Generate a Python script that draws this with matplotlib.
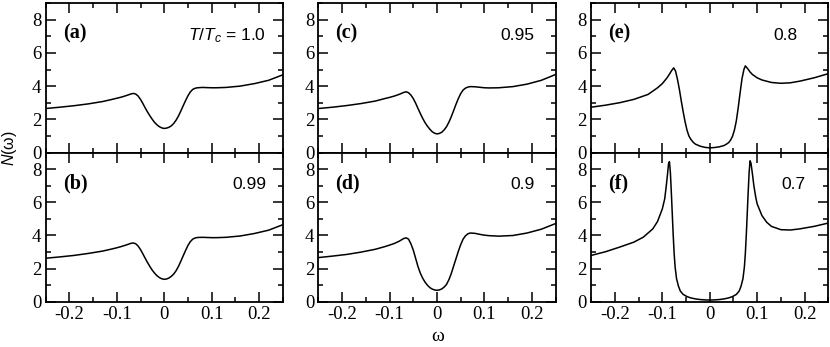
import matplotlib
matplotlib.use("Agg")
import matplotlib.pyplot as plt
from matplotlib.ticker import MultipleLocator

plt.rcParams['font.family'] = ['Liberation Serif', 'DejaVu Serif']
plt.rcParams['mathtext.fontset'] = 'custom'
plt.rcParams['mathtext.rm'] = 'Liberation Sans'
plt.rcParams['mathtext.it'] = 'Liberation Sans:italic'

# common frequency grid for the four weak-gap panels
w_soft = [-0.25, -0.22, -0.19, -0.16, -0.13, -0.11, -0.10, -0.09, -0.08, -0.07, -0.065, -0.06,
          -0.055, -0.05, -0.045, -0.04, -0.035, -0.03, -0.025, -0.02, -0.015, -0.01, -0.005,
          0.00, 0.005, 0.01, 0.015, 0.02, 0.025, 0.03, 0.035, 0.04, 0.045, 0.05, 0.055,
          0.06, 0.065, 0.07, 0.08, 0.09, 0.10, 0.11, 0.13, 0.16, 0.19, 0.22, 0.25]

dos_a = [2.65, 2.73, 2.82, 2.93, 3.07, 3.20, 3.27, 3.34, 3.43, 3.53, 3.56, 3.52,
         3.40, 3.20, 2.95, 2.68, 2.43, 2.20, 1.99, 1.80, 1.66, 1.55, 1.48,
         1.45, 1.47, 1.52, 1.61, 1.75, 1.95, 2.20, 2.50, 2.82, 3.13, 3.42, 3.65,
         3.80, 3.87, 3.90, 3.92, 3.91, 3.90, 3.90, 3.92, 4.00, 4.15, 4.35, 4.68]

dos_b = [2.63, 2.71, 2.80, 2.92, 3.06, 3.19, 3.26, 3.34, 3.43, 3.53, 3.55, 3.50,
         3.36, 3.15, 2.89, 2.62, 2.36, 2.12, 1.90, 1.72, 1.57, 1.46, 1.39,
         1.36, 1.38, 1.44, 1.54, 1.68, 1.88, 2.14, 2.45, 2.78, 3.10, 3.40, 3.63,
         3.78, 3.85, 3.88, 3.89, 3.88, 3.87, 3.87, 3.89, 3.97, 4.12, 4.32, 4.65]

dos_c = [2.65, 2.73, 2.83, 2.95, 3.10, 3.25, 3.32, 3.40, 3.50, 3.62, 3.66, 3.60,
         3.46, 3.25, 2.97, 2.65, 2.34, 2.05, 1.79, 1.58, 1.40, 1.25, 1.16,
         1.12, 1.15, 1.22, 1.36, 1.55, 1.82, 2.15, 2.52, 2.90, 3.25, 3.55, 3.76,
         3.88, 3.94, 3.97, 3.96, 3.93, 3.90, 3.89, 3.90, 3.97, 4.12, 4.35, 4.70]

dos_d = [2.67, 2.76, 2.86, 3.00, 3.17, 3.33, 3.42, 3.52, 3.65, 3.82, 3.86, 3.78,
         3.50, 3.12, 2.62, 2.12, 1.72, 1.42, 1.18, 1.00, 0.86, 0.77, 0.72,
         0.70, 0.72, 0.78, 0.89, 1.05, 1.33, 1.70, 2.15, 2.60, 3.05, 3.45, 3.78,
         3.98, 4.10, 4.15, 4.13, 4.07, 4.02, 3.99, 3.96, 4.00, 4.15, 4.38, 4.72]

w_e = [-0.25, -0.22, -0.19, -0.16, -0.13, -0.11, -0.10, -0.09, -0.085, -0.08, -0.076,
       -0.072, -0.068, -0.064, -0.06, -0.056, -0.052, -0.048, -0.044, -0.04, -0.035,
       -0.03, -0.02, -0.01, 0.0, 0.01, 0.02, 0.03, 0.035, 0.04, 0.044, 0.048, 0.052,
       0.056, 0.06, 0.064, 0.068, 0.072, 0.075, 0.08, 0.085, 0.09, 0.10, 0.11, 0.13,
       0.15, 0.17, 0.19, 0.22, 0.25]
dos_e = [2.73, 2.85, 3.00, 3.20, 3.50, 3.90, 4.15, 4.50, 4.72, 4.95, 5.10,
         4.90, 4.40, 3.80, 3.10, 2.45, 1.85, 1.35, 1.00, 0.80, 0.62,
         0.50, 0.38, 0.31, 0.28, 0.30, 0.34, 0.42, 0.50, 0.60, 0.75, 0.98, 1.35,
         1.90, 2.70, 3.60, 4.45, 5.00, 5.22, 5.05, 4.85, 4.70, 4.50, 4.37, 4.22,
         4.17, 4.20, 4.30, 4.50, 4.75]

w_f = [-0.25, -0.22, -0.19, -0.16, -0.14, -0.12, -0.11, -0.10, -0.095, -0.092, -0.089,
       -0.087, -0.085, -0.083, -0.081, -0.079, -0.077, -0.075, -0.073, -0.07, -0.066,
       -0.062, -0.056, -0.048, -0.04, -0.03, -0.02, -0.01, 0.0, 0.01, 0.02, 0.03,
       0.04, 0.048, 0.056, 0.062, 0.066, 0.07, 0.073, 0.075, 0.077, 0.079, 0.081,
       0.083, 0.085, 0.087, 0.09, 0.093, 0.097, 0.10, 0.11, 0.12, 0.13, 0.15, 0.17,
       0.19, 0.22, 0.25]
dos_f = [2.80, 3.02, 3.30, 3.60, 3.90, 4.40, 4.85, 5.60, 6.20, 6.90, 7.70,
         8.30, 8.45, 7.80, 6.60, 5.30, 4.00, 2.90, 2.10, 1.40, 0.95,
         0.65, 0.45, 0.32, 0.24, 0.18, 0.14, 0.12, 0.11, 0.12, 0.14, 0.18,
         0.24, 0.32, 0.45, 0.65, 0.95, 1.40, 2.10, 2.90, 4.00, 5.30, 6.60,
         7.80, 8.50, 8.35, 7.70, 7.00, 6.30, 5.90, 5.20, 4.80, 4.55, 4.35, 4.33,
         4.40, 4.55, 4.75]

tags = ['(a)', '(b)', '(c)', '(d)', '(e)', '(f)']
temps = [r'$T/T_c$ = 1.0', '0.99', '0.95', '0.9', '0.8', '0.7']

# (row, col, x, y, label x position)
panels = [
    (0, 0, w_soft, dos_a, 0.93),
    (1, 0, w_soft, dos_b, 0.93),
    (0, 1, w_soft, dos_c, 0.91),
    (1, 1, w_soft, dos_d, 0.91),
    (0, 2, w_e, dos_e, 0.87),
    (1, 2, w_f, dos_f, 0.905),
]

fig, axes = plt.subplots(2, 3, figsize=(8.3, 3.47), dpi=100)
fig.subplots_adjust(left=0.055, right=0.998, top=0.991, bottom=0.13,
                    wspace=0.15, hspace=0)

for i, (r, c, w, dos, tx) in enumerate(panels):
    ax = axes[r, c]
    ax.plot(w, dos, color='black', lw=1.1)
    ax.set_xlim(-0.25, 0.25)
    ax.set_ylim(0, 9)
    ax.xaxis.set_major_locator(MultipleLocator(0.1))
    ax.xaxis.set_minor_locator(MultipleLocator(0.05))
    ax.yaxis.set_major_locator(MultipleLocator(2))
    ax.yaxis.set_minor_locator(MultipleLocator(1))
    ax.tick_params(which='both', direction='in', top=True, right=True,
                   width=1.1, labelsize=13.5, pad=3)
    ax.tick_params(which='major', length=7)
    ax.tick_params(which='minor', length=3.5)
    for sp in ax.spines.values():
        sp.set_linewidth(1.3)
    ax.set_xticks([-0.2, -0.1, 0, 0.1, 0.2])
    ax.set_xticklabels(['-0.2', '-0.1', '0', '0.1', '0.2'])
    if r == 0:
        ax.tick_params(labelbottom=False)
    ax.text(0.072, 0.795, tags[i], transform=ax.transAxes, fontsize=14.5,
            fontweight='bold', va='center', ha='left')
    ax.text(tx, 0.785, temps[i], transform=ax.transAxes, fontsize=12.5,
            family='Liberation Sans', va='center', ha='right')

fig.text(0.527, 0.005, 'ω', fontsize=14, ha='center', va='bottom')
fig.text(0.0, 0.574, r'$N$(ω)', fontsize=11.5, rotation=90, ha='left',
         va='center', family='Liberation Sans')

fig.savefig('out.png', dpi=100)
